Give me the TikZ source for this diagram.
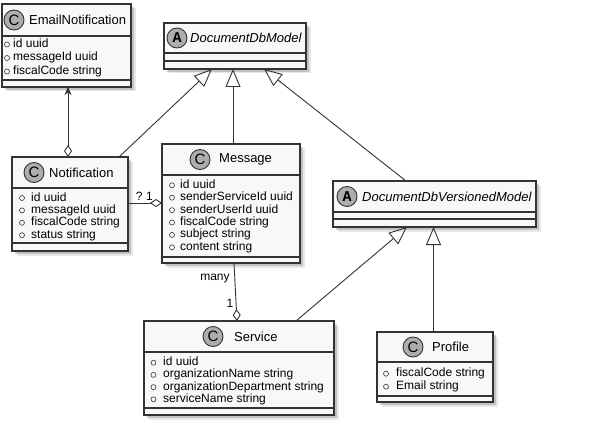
\documentclass[tikz,border=0pt]{standalone}
\usepackage{fontspec}
\setmainfont{Liberation Sans}
\setmonofont{Liberation Mono}
\usetikzlibrary{arrows.meta,shadows}
\definecolor{edge}{HTML}{333333}
\definecolor{boxbg}{HTML}{F8F8F8}
\definecolor{icobg}{HTML}{ADADAD}
\tikzset{
  cls/.style={rectangle, draw=edge, line width=1.3pt, fill=boxbg, inner sep=0pt, outer sep=0pt,
    anchor=north west,
    drop shadow={shadow xshift=4.5pt, shadow yshift=-4.5pt, opacity=.15, fill=black!60},
    drop shadow={shadow xshift=3pt, shadow yshift=-3pt, opacity=.3, fill=black!60}},
  divider/.style={draw=edge, line width=1.3pt},
  ico/.style={circle, draw=edge, line width=.9pt, fill=icobg, minimum size=20pt, inner sep=0pt,
    font=\fontsize{15}{15}\selectfont},
  title/.style={anchor=west, inner sep=0pt, font=\fontsize{13}{15}\selectfont},
  attr/.style={anchor=base west, inner sep=0pt, font=\fontsize{12}{14}\selectfont},
  bul/.style={circle, draw=edge, line width=.6pt, minimum size=5pt, inner sep=0pt},
  link/.style={draw=edge, line width=.9pt},
  gen/.style={link, -{Triangle[open, length=18pt, width=15pt]}},
  agg/.style={link, -{Diamond[open, length=12pt, width=8pt]}},
  lbl/.style={inner sep=0pt, font=\fontsize{12}{14}\selectfont}
}
\begin{document}
\begin{tikzpicture}[x=1pt, y=-1pt]
\useasboundingbox (0,0) rectangle (604,433);

% class boxes
\node[cls, minimum width=129pt, minimum height=83pt] (en) at (2,4) {};
\node[cls, minimum width=142pt, minimum height=46pt] (dm) at (164,23) {};
\node[cls, minimum width=116pt, minimum height=94pt] (not) at (12,157) {};
\node[cls, minimum width=138pt, minimum height=119pt] (msg) at (162,144) {};
\node[cls, minimum width=203pt, minimum height=46pt] (dvm) at (333,181) {};
\node[cls, minimum width=190pt, minimum height=94pt] (srv) at (144,321) {};
\node[cls, minimum width=116pt, minimum height=70pt] (prf) at (377,332) {};

% compartments
\draw[divider] (en.west |- 0,36) -- (en.east |- 0,36) (en.west |- 0,80) -- (en.east |- 0,80);
\draw[divider] (dm.west |- 0,53) -- (dm.east |- 0,53) (dm.west |- 0,61) -- (dm.east |- 0,61);
\draw[divider] (not.west |- 0,188) -- (not.east |- 0,188) (not.west |- 0,243) -- (not.east |- 0,243);
\draw[divider] (msg.west |- 0,175) -- (msg.east |- 0,175) (msg.west |- 0,257) -- (msg.east |- 0,257);
\draw[divider] (dvm.west |- 0,212) -- (dvm.east |- 0,212) (dvm.west |- 0,219) -- (dvm.east |- 0,219);
\draw[divider] (srv.west |- 0,352) -- (srv.east |- 0,352) (srv.west |- 0,408) -- (srv.east |- 0,408);
\draw[divider] (prf.west |- 0,362) -- (prf.east |- 0,362) (prf.west |- 0,396) -- (prf.east |- 0,396);

% headers
\node[ico] (en-i) at (14,20) {C};
\node[title] (en-t) at (29,20) {EmailNotification};
\node[ico] (dm-i) at (177,38) {\ttfamily\bfseries A};
\node[title] (dm-t) at (190,38) {\itshape DocumentDbModel};
\node[ico] (not-i) at (34,172.5) {C};
\node[title] (not-t) at (49,172.5) {Notification};
\node[ico] (msg-i) at (200,159.5) {C};
\node[title] (msg-t) at (219,159.5) {Message};
\node[ico] (dvm-i) at (347,196.5) {\ttfamily\bfseries A};
\node[title] (dvm-t) at (362,196.5) {\itshape DocumentDbVersionedModel};
\node[ico] (srv-i) at (213,336.5) {C};
\node[title] (srv-t) at (234,336.5) {Service};
\node[ico] (prf-i) at (413,347) {C};
\node[title] (prf-t) at (432,347) {Profile};

% attributes
\foreach \a [count=\i] in {id uuid, messageId uuid, fiscalCode string} {
  \node[bul] (en-b\i) at (7,31+13.5*\i) {};
  \node[attr] (en-a\i) at (13,34+13.5*\i) {\a};
}
\foreach \a [count=\i] in {id uuid, messageId uuid, fiscalCode string, status string} {
  \node[bul] (not-b\i) at (22,185.6+12.4*\i) {};
  \node[attr] (not-a\i) at (31,188.6+12.4*\i) {\a};
}
\foreach \a [count=\i] in {id uuid, senderServiceId uuid, senderUserId uuid, fiscalCode string,
    subject string, content string} {
  \node[bul] (msg-b\i) at (172,172.9+12.4*\i) {};
  \node[attr] (msg-a\i) at (180,175.9+12.4*\i) {\a};
}
\foreach \a [count=\i] in {id uuid, organizationName string, organizationDepartment string,
    serviceName string} {
  \node[bul] (srv-b\i) at (153.5,350.5+12.2*\i) {};
  \node[attr] (srv-a\i) at (163,353.5+12.2*\i) {\a};
}
\foreach \a [count=\i] in {fiscalCode string, Email string} {
  \node[bul] (prf-b\i) at (386,360.7+13*\i) {};
  \node[attr] (prf-a\i) at (396,363.7+13*\i) {\a};
}

% relations
\draw[link, {Stealth[length=8pt, width=7pt]}-{Diamond[open, length=12pt, width=8pt]}]
  ([xshift=66pt]en.south west) -- ([xshift=56pt]not.north west);
\draw[gen] ([xshift=-9pt]not.north east) -- ([xshift=48pt]dm.south west);
\draw[gen] ([xshift=71pt]msg.north west) -- ([xshift=69pt]dm.south west);
\draw[gen] ([xshift=73pt]dvm.north west) -- ([xshift=100pt]dm.south west);
\draw[gen] ([xshift=152pt]srv.north west) -- ([xshift=74pt]dvm.south west);
\draw[gen] ([xshift=56.5pt]prf.north west) -- ([xshift=100.5pt]dvm.south west);
\draw[agg] ([yshift=-46pt]not.north east) -- ([yshift=-59pt]msg.north west)
  node[lbl, pos=.33, above=2pt] (q1) {?} node[lbl, pos=.63, above=2pt] (q2) {1};
\draw[agg] ([xshift=72pt]msg.south west) -- ([xshift=93pt]srv.north west);
\node[lbl] (many) at (215,279) {many};
\node[lbl] (one) at (230,303) {1};
\end{tikzpicture}
\end{document}
